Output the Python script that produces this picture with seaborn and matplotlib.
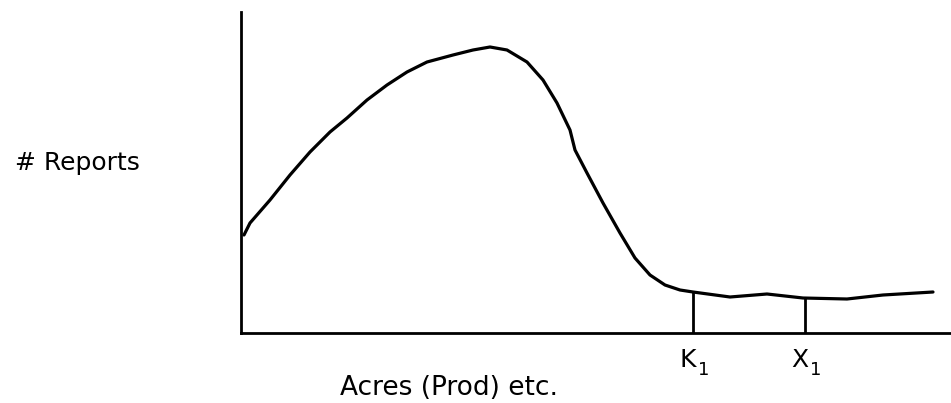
import numpy as np
import pandas as pd
import matplotlib.pyplot as plt
import seaborn as sns

# curve (x: acres, y: # reports, arbitrary units)
acres = [3, 9, 29, 49, 69, 89, 106, 126, 146, 166, 186, 212, 232, 249, 266,
         286, 302, 316, 329, 334, 346, 362, 379, 394, 409, 424, 439, 452,
         489, 526, 562, 606, 642, 692]
reports = [98, 110, 133, 158, 181, 201, 215, 233, 248, 261, 271, 278, 283,
           286, 283, 271, 253, 230, 203, 183, 160, 130, 100, 75, 58, 48, 43,
           41, 36, 39, 35, 34, 38, 41]
marks = ["K", "X"]
mark_x = [452, 564]
mark_top = [41, 35]

df = pd.DataFrame({"acres": acres, "reports": reports})

sns.set_style("white")
plt.rcParams['font.family'] = ['DejaVu Sans']
plt.rcParams['text.color'] = 'black'

fig = plt.figure(figsize=(9.51, 4.03), dpi=100)
ax = fig.add_axes([241 / 951, 70 / 403, 710 / 951, 321 / 403])

sns.lineplot(data=df, x="acres", y="reports", ax=ax, color="black",
             linewidth=2.3, sort=False)
ax.vlines(mark_x, 0, mark_top, color="black", linewidth=2.0)

ax.set_xlim(0, 710)
ax.set_ylim(0, 321)
ax.set_xticks([])
ax.set_yticks([])
ax.set_xlabel("")
ax.set_ylabel("")
for side in ["top", "right"]:
    ax.spines[side].set_visible(False)
for side in ["left", "bottom"]:
    ax.spines[side].set_linewidth(2.0)
    ax.spines[side].set_color("black")

# labels under the marks, with a small "1" as subscript
for name, x in zip(marks, mark_x):
    ax.text(x - 5, -34, name, ha="center", va="baseline", fontsize=18,
            color="black", clip_on=False)
    ax.text(x + 11, -42, "1", ha="center", va="baseline", fontsize=13,
            color="black", clip_on=False)

fig.text(15 / 951, 1 - 170 / 403, "# Reports", ha="left", va="baseline",
         fontsize=18, color="black")
fig.text(340 / 951, 1 - 395 / 403, "Acres (Prod) etc.", ha="left",
         va="baseline", fontsize=19, color="black")

fig.savefig("out.png", dpi=100)
